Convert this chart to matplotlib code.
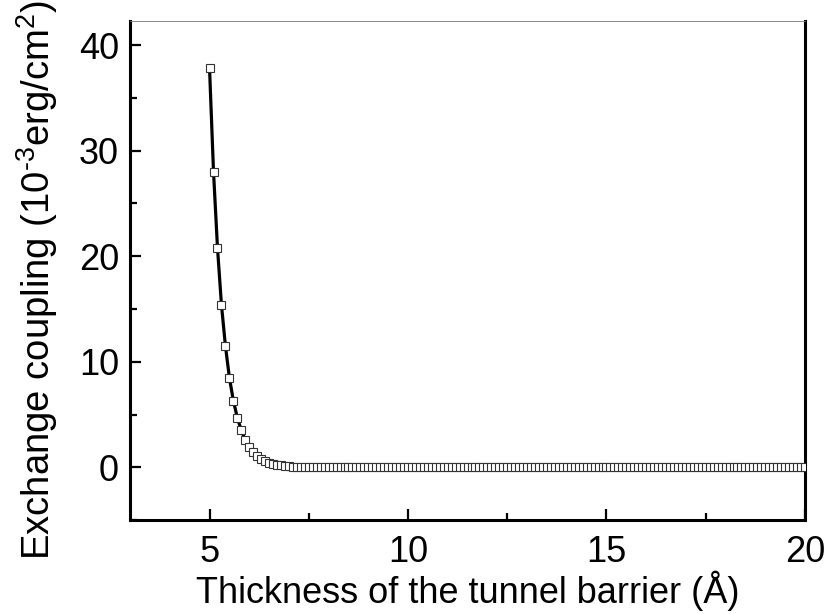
import matplotlib
matplotlib.use("Agg")
import matplotlib.pyplot as plt
from matplotlib.ticker import MultipleLocator
import numpy as np

plt.rcParams['font.family'] = ['Liberation Sans', 'DejaVu Sans']
plt.rcParams['mathtext.fontset'] = 'custom'
plt.rcParams['mathtext.rm'] = 'Liberation Sans'
plt.rcParams['mathtext.it'] = 'Liberation Sans:italic'
plt.rcParams['mathtext.default'] = 'regular'

# barrier thickness, 0.1 A steps from 5 to 20 A
thickness = np.linspace(5.0, 20.0, 151)

# exchange coupling (1e-3 erg/cm^2)
coupling_head = [37.8, 28.0, 20.8, 15.4, 11.5, 8.5, 6.3, 4.7, 3.5, 2.6,
                 1.95, 1.45, 1.07, 0.79, 0.59, 0.43, 0.32, 0.24, 0.18, 0.13,
                 0.10, 0.07, 0.05, 0.04, 0.03, 0.02, 0.02, 0.01, 0.01, 0.01]
# 8.0 .. 20.0 A: flat on zero
coupling_tail = [0.0, 0.0, 0.0, 0.0, 0.0, 0.0, 0.0, 0.0, 0.0, 0.0, 0.0,
                 0.0, 0.0, 0.0, 0.0, 0.0, 0.0, 0.0, 0.0, 0.0, 0.0, 0.0,
                 0.0, 0.0, 0.0, 0.0, 0.0, 0.0, 0.0, 0.0, 0.0, 0.0, 0.0,
                 0.0, 0.0, 0.0, 0.0, 0.0, 0.0, 0.0, 0.0, 0.0, 0.0, 0.0,
                 0.0, 0.0, 0.0, 0.0, 0.0, 0.0, 0.0, 0.0, 0.0, 0.0, 0.0,
                 0.0, 0.0, 0.0, 0.0, 0.0, 0.0, 0.0, 0.0, 0.0, 0.0, 0.0,
                 0.0, 0.0, 0.0, 0.0, 0.0, 0.0, 0.0, 0.0, 0.0, 0.0, 0.0,
                 0.0, 0.0, 0.0, 0.0, 0.0, 0.0, 0.0, 0.0, 0.0, 0.0, 0.0,
                 0.0, 0.0, 0.0, 0.0, 0.0, 0.0, 0.0, 0.0, 0.0, 0.0, 0.0,
                 0.0, 0.0, 0.0, 0.0, 0.0, 0.0, 0.0, 0.0, 0.0, 0.0, 0.0,
                 0.0, 0.0, 0.0, 0.0, 0.0, 0.0, 0.0, 0.0, 0.0, 0.0, 0.0]
coupling = coupling_head + coupling_tail

fig = plt.figure(figsize=(8.29, 6.14), dpi=100)
ax = fig.add_axes([0.157, 0.153, 0.814, 0.813])

ax.plot(thickness, coupling, color='black', lw=2.3, zorder=2)
ax.plot(thickness, coupling, ls='none', marker='s', ms=6.2,
        mfc='white', mec='#333333', mew=0.8, zorder=3)

ax.set_xlim(3, 20)
ax.set_ylim(-5, 42.3)
ax.xaxis.set_major_locator(MultipleLocator(5))
ax.xaxis.set_minor_locator(MultipleLocator(2.5))
ax.yaxis.set_major_locator(MultipleLocator(10))
ax.yaxis.set_minor_locator(MultipleLocator(5))
ax.tick_params(which='both', direction='in', width=1.6, labelsize=26,
               top=False, right=False)
ax.tick_params(axis='x', pad=11)
ax.tick_params(axis='y', pad=8)
ax.tick_params(which='major', length=8)
ax.tick_params(which='minor', length=5)

for side in ['left', 'bottom', 'right']:
    ax.spines[side].set_linewidth(2.2)
ax.spines['top'].set_linewidth(0.6)
ax.spines['top'].set_color('#777777')

ax.set_xlabel('Thickness of the tunnel barrier (Å)', fontsize=26, labelpad=0)
ax.set_ylabel('Exchange coupling (10$^{\\text{-3}}$erg/cm$^{2}$)',
              fontsize=27.5)
ax.yaxis.set_label_coords(-0.104, 0.481)

fig.savefig('out.png', dpi=100)
plt.close(fig)
